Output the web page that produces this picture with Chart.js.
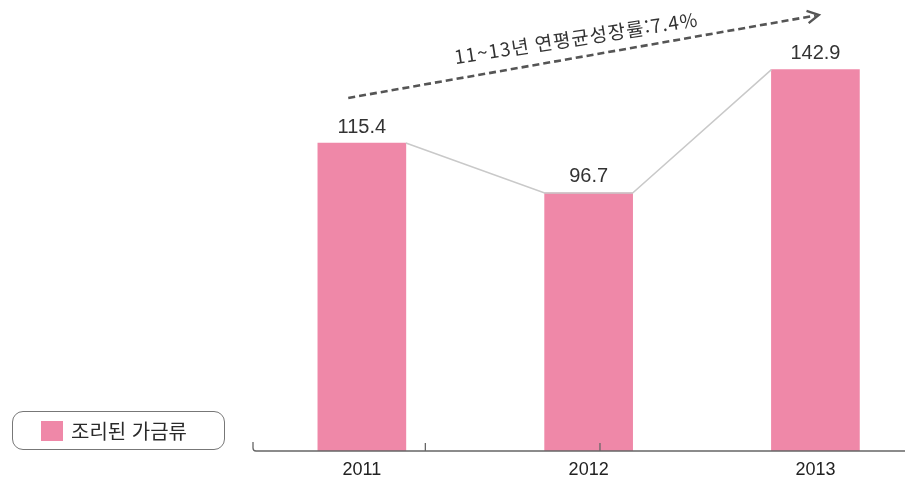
<!DOCTYPE html>
<html lang="ko">
<head>
<meta charset="utf-8">
<title>조리된 가금류</title>
<script src="https://cdn.jsdelivr.net/npm/chart.js@4/dist/chart.umd.min.js"></script>
<style>
    html, body { margin: 0; padding: 0; background: #fff; }
    #wrap { position: relative; width: 905px; height: 481px; }
    #legend {
        position: absolute; left: 12px; top: 411px; width: 213px; height: 39px;
        border: 1.5px solid #777; border-radius: 11px; box-sizing: border-box;
        font-family: "Noto Sans CJK KR", sans-serif; font-size: 20px; color: #2a2a2a;
        display: flex; align-items: center;
    }
    #legend .box { width: 22px; height: 20px; background: #ef88a8; margin: 0 8px 0 28px; }
</style>
</head>
<body>
<div id="wrap">
    <canvas id="chart" width="905" height="481"></canvas>
    <div id="legend"><span class="box"></span><span>조리된 가금류</span></div>
</div>
<script>
const years = [2011, 2012, 2013];
const values = [115.4, 96.7, 142.9];
const seriesName = "조리된 가금류";
const growthNote = "11~13년 연평균성장률:7.4%";
// arrow ends in data units: [year, value]
const arrowFrom = [2010.94, 132.3];
const arrowTo = [2013.015, 163.4];

const pink = "#ef88a8";

// gray line joining bar corners, value labels, trend arrow, axis line
const extras = {
    id: "extras",
    afterDatasetsDraw(chart) {
        const ctx = chart.ctx;
        const bars = chart.getDatasetMeta(0).data;
        const xs = chart.scales.x, ys = chart.scales.y;
        const area = chart.chartArea;

        ctx.save();
        // connecting line
        ctx.strokeStyle = "#c9c9c9";
        ctx.lineWidth = 1.5;
        ctx.beginPath();
        bars.forEach((b, i) => {
            const l = b.x - b.width / 2, r = b.x + b.width / 2;
            if (i === 0) ctx.moveTo(r, b.y);
            else {
                ctx.lineTo(l, b.y);
                if (i < bars.length - 1) ctx.lineTo(r, b.y);
            }
        });
        ctx.stroke();

        // value labels
        ctx.fillStyle = "#333";
        ctx.font = '20px "Liberation Sans", sans-serif';
        ctx.textAlign = "center";
        ctx.textBaseline = "bottom";
        bars.forEach((b, i) => {
            ctx.fillText(values[i].toFixed(1), b.x, b.y - 6);
        });

        // axis line with curled left end
        const y0 = area.bottom;
        ctx.strokeStyle = "#666";
        ctx.lineWidth = 1.3;
        ctx.beginPath();
        ctx.moveTo(area.left, y0 - 9);
        ctx.lineTo(area.left, y0 - 3);
        ctx.quadraticCurveTo(area.left, y0, area.left + 3, y0);
        ctx.lineTo(area.right, y0);
        [2011.28, 2012.05].forEach(v => {
            const x = xs.getPixelForValue(v);
            ctx.moveTo(x, y0);
            ctx.lineTo(x, y0 - 8);
        });
        ctx.stroke();

        // dashed trend arrow
        const x1 = xs.getPixelForValue(arrowFrom[0]), y1 = ys.getPixelForValue(arrowFrom[1]);
        const x2 = xs.getPixelForValue(arrowTo[0]), y2 = ys.getPixelForValue(arrowTo[1]);
        const ang = Math.atan2(y2 - y1, x2 - x1);
        ctx.strokeStyle = "#555";
        ctx.lineWidth = 2.6;
        ctx.setLineDash([7, 4]);
        ctx.beginPath();
        ctx.moveTo(x1, y1);
        ctx.lineTo(x2 - 3 * Math.cos(ang), y2 - 3 * Math.sin(ang));
        ctx.stroke();
        ctx.setLineDash([]);
        ctx.lineWidth = 2.4;
        ctx.beginPath();
        ctx.moveTo(x2 - 13 * Math.cos(ang - 0.5), y2 - 13 * Math.sin(ang - 0.5));
        ctx.lineTo(x2, y2);
        ctx.lineTo(x2 - 13 * Math.cos(ang + 0.5), y2 - 13 * Math.sin(ang + 0.5));
        ctx.stroke();

        // note along the arrow
        ctx.translate((x1 + x2) / 2 - 6, (y1 + y2) / 2 - 9);
        ctx.rotate(ang + 0.02);
        ctx.fillStyle = "#333";
        ctx.font = '19px "Noto Sans CJK KR", sans-serif';
        ctx.letterSpacing = "1px";
        ctx.textBaseline = "bottom";
        ctx.fillText(growthNote, 0, 0);
        ctx.restore();
    }
};

new Chart(document.getElementById("chart").getContext("2d"), {
    type: "bar",
    data: {
        datasets: [{
            label: seriesName,
            data: years.map((y, i) => ({ x: y, y: values[i] })),
            backgroundColor: pink,
            barThickness: 88
        }]
    },
    options: {
        responsive: false,
        animation: false,
        layout: { padding: { left: 253, right: 0, top: 0, bottom: 0 } },
        plugins: { legend: { display: false }, tooltip: { enabled: false } },
        scales: {
            x: {
                type: "linear",
                offset: false,
                min: 2010.52,
                max: 2013.395,
                grid: { display: false },
                border: { display: false },
                afterBuildTicks: axis => { axis.ticks = years.map(v => ({ value: v })); },
                afterFit: axis => { axis.height = 30; },
                ticks: {
                    callback: v => String(v),
                    color: "#222",
                    padding: 0,
                    maxRotation: 0,
                    font: { family: "Liberation Sans", size: 18 }
                }
            },
            y: {
                display: false,
                min: 0,
                max: 169
            }
        }
    },
    plugins: [extras]
});
</script>
</body>
</html>
